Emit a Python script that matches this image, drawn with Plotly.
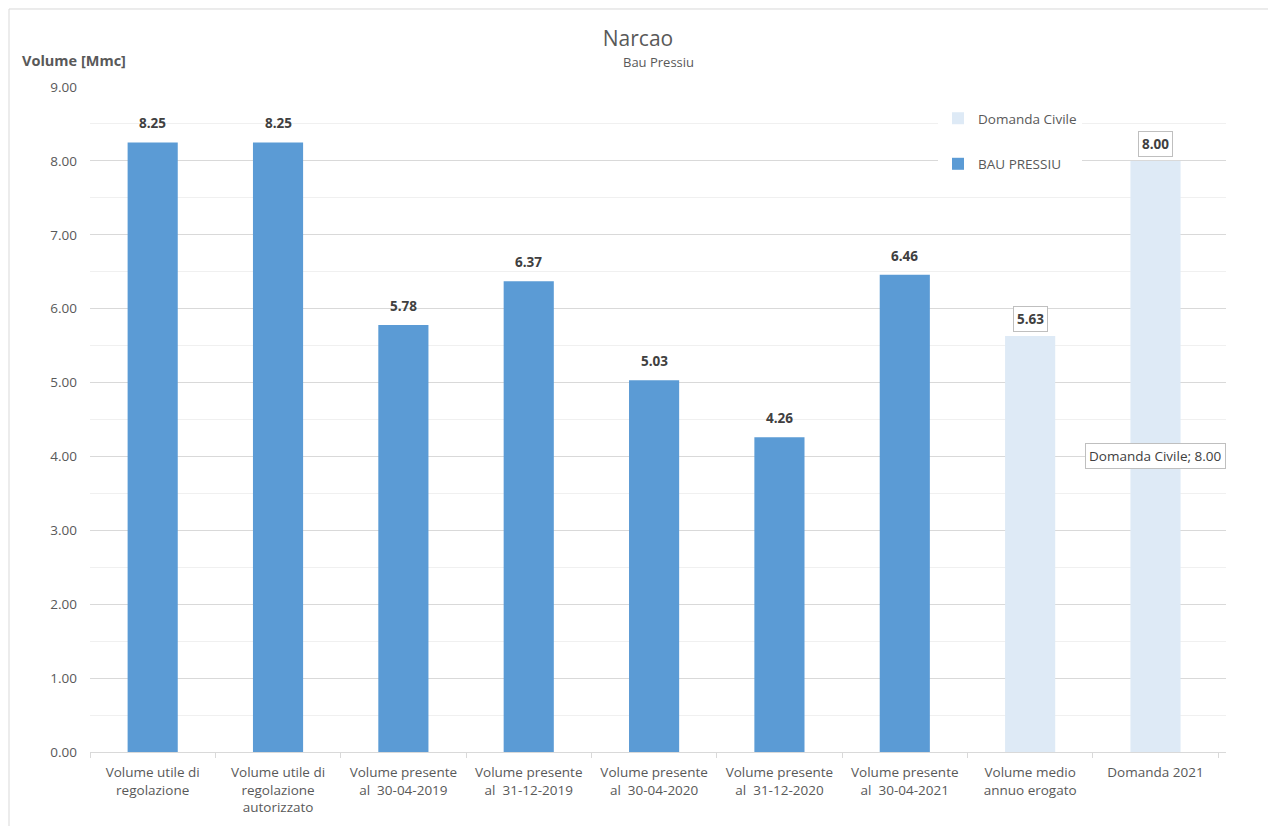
import plotly.graph_objects as go

categories = [
    "Volume utile di<br>regolazione",
    "Volume utile di<br>regolazione<br>autorizzato",
    "Volume presente<br>al  30-04-2019",
    "Volume presente<br>al  31-12-2019",
    "Volume presente<br>al  30-04-2020",
    "Volume presente<br>al  31-12-2020",
    "Volume presente<br>al  30-04-2021",
    "Volume medio<br>annuo erogato",
    "Domanda 2021",
]
bau_values = [8.25, 8.25, 5.78, 6.37, 5.03, 4.26, 6.46, None, None]
civile_values = [None, None, None, None, None, None, None, 5.63, 8.00]

BAU_COLOR = "#5B9BD5"
CIV_COLOR = "#DEEAF6"
TXT = "#595959"
FONT = "Open Sans"

fig = go.Figure()
fig.add_trace(go.Bar(x=categories, y=civile_values, name="Domanda Civile",
                     marker=dict(color=CIV_COLOR, line=dict(width=0)),
                     width=0.4, legendgroup="c", hoverinfo="skip"))
fig.add_trace(go.Bar(x=categories, y=bau_values, name="BAU PRESSIU",
                     marker=dict(color=BAU_COLOR, line=dict(width=0)),
                     width=0.4, legendgroup="b", hoverinfo="skip"))

annotations = []
for c, v in zip(categories, bau_values):
    if v is not None:
        annotations.append(dict(x=c, y=v, xref="x", yref="y", text=f"<b>{v:.2f}</b>",
                                showarrow=False, yanchor="middle", yshift=19,
                                font=dict(family=FONT, size=13.5, color="#404040")))
for c, v in zip(categories, civile_values):
    if v is not None:
        annotations.append(dict(x=c, y=v, xref="x", yref="y", text=f"<b>{v:.2f}</b>",
                                showarrow=False, yanchor="middle", yshift=17,
                                bordercolor="#BFBFBF", borderwidth=1, borderpad=3,
                                bgcolor="white",
                                font=dict(family=FONT, size=13.5, color="#404040")))
# callout label on last bar
annotations.append(dict(x=categories[-1], y=civile_values[-1] / 2, xref="x", yref="y",
                        text=f"Domanda Civile; {civile_values[-1]:.2f}",
                        showarrow=False, bordercolor="#BFBFBF", borderwidth=1, borderpad=3,
                        bgcolor="white", font=dict(family=FONT, size=13.5, color="#404040")))
annotations.append(dict(x=-0.0616, y=1.0406, xref="paper", yref="paper", xanchor="left",
                        yanchor="middle", text="<b>Volume [Mmc]</b>", showarrow=False,
                        font=dict(family=FONT, size=14.5, color=TXT)))
annotations.append(dict(x=0.5, y=1.0376, xref="paper", yref="paper", xanchor="center",
                        yanchor="middle", text="Bau Pressiu", showarrow=False,
                        font=dict(family=FONT, size=13, color=TXT)))

fig.update_layout(
    width=1260, height=818,
    margin=dict(l=82, r=42, t=79, b=74),
    paper_bgcolor="white", plot_bgcolor="white",
    barmode="overlay",
    title=dict(text="Narcao", x=0.5, xanchor="center", y=1 - 31 / 818, yanchor="middle",
               font=dict(family=FONT, size=21, color=TXT)),
    font=dict(family=FONT, size=12, color=TXT),
    showlegend=True,
    legend=dict(x=0.7465, y=0.976, xanchor="left", yanchor="top",
                bgcolor="white", tracegroupgap=25, traceorder="grouped",
                font=dict(family=FONT, size=13.5, color=TXT), itemwidth=30),
    annotations=annotations,
    shapes=[dict(type="rect", xref="paper", yref="paper",
                 x0=-0.0713, x1=1.07, y0=-0.2, y1=1.1173,
                 line=dict(color="#D9D9D9", width=1), layer="below")],
)
fig.update_yaxes(range=[0, 9], dtick=1, tickformat=".2f",
                 showgrid=True, gridcolor="#D9D9D9", gridwidth=1,
                 minor=dict(dtick=0.5, showgrid=True, gridcolor="#F0F0F0", gridwidth=1),
                 zeroline=False, showline=False, ticks="", ticklabelstandoff=12,
                 automargin=False,
                 tickfont=dict(family=FONT, size=13.5, color=TXT))
fig.update_xaxes(showline=True, linecolor="#D9D9D9", linewidth=1,
                 ticks="outside", tickson="boundaries", ticklen=5, tickcolor="#D9D9D9",
                 ticklabelstandoff=8, automargin=False,
                 tickfont=dict(family=FONT, size=13.5, color=TXT), showgrid=False)

fig.write_html("out.html")
